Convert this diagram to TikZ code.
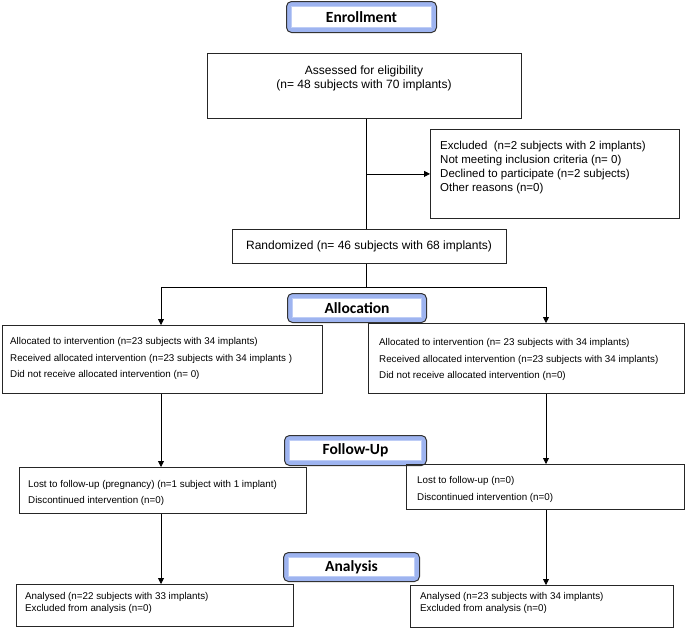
\documentclass[tikz,border=0pt]{standalone}
\usepackage{fontspec}
\setmainfont{Liberation Sans}
\newfontfamily\hfont{Carlito}
\usetikzlibrary{arrows.meta}
\definecolor{hblue}{RGB}{158,180,240}
\definecolor{hline}{RGB}{190,205,246}
\newcommand\mybox[5]{\node[box, minimum width=#4pt, minimum height=#5pt] (#1) at (#2,#3) {};}
\begin{document}
\begin{tikzpicture}[x=1pt,y=-1pt,
  box/.style={draw=black!85, line width=0.8pt, inner sep=0pt, anchor=north west},
  hdr/.style={anchor=north west, draw=black!80, line width=1pt, rounded corners=5pt, fill=hblue, inner sep=0pt,
    font=\hfont\bfseries\fontsize{15.5}{18}\selectfont,
    path picture={\draw[sharp corners, fill=white, draw=hline, line width=0.5pt]
      ([shift={(5pt,-5pt)}]path picture bounding box.north west) rectangle
      ([shift={(-5pt,5pt)}]path picture bounding box.south east);}},
  txtL/.style={font=\fontsize{12}{13.5}\selectfont, align=center, inner sep=0pt},
  txtE/.style={font=\fontsize{11.5}{13.7}\selectfont, align=left, inner sep=0pt, anchor=west},
  txtS/.style={font=\fontsize{9.8}{16.5}\selectfont, align=left, inner sep=0pt, anchor=west},
  txtT/.style={font=\fontsize{9.8}{12}\selectfont, align=left, inner sep=0pt, anchor=west},
  arr/.style={line width=0.8pt, -{Triangle[length=6pt,width=6pt]}},
  ln/.style={line width=0.8pt}]
\useasboundingbox (0,0) rectangle (685,630);

% headers
\node[hdr, minimum width=150pt, minimum height=31pt] (henr) at (286,1) {Enrollment};
\node[hdr, minimum width=139pt, minimum height=29pt] (hall) at (287,293) {Allocation};
\node[hdr, minimum width=142pt, minimum height=30pt] (hfu) at (284,435) {Follow-Up};
\node[hdr, minimum width=136pt, minimum height=29pt] (han) at (283,552) {Analysis};

% boxes
\mybox{ass}{207}{53}{314}{65}
\mybox{exc}{430}{129}{249}{89}
\mybox{rnd}{232}{229}{274}{34}
\mybox{la}{2}{325}{320}{68}
\mybox{ra}{368}{323}{316}{70}
\mybox{lf}{19}{467}{287}{46}
\mybox{rf}{406}{464}{278}{45}
\mybox{lan}{16}{584}{277}{42}
\mybox{ran}{410}{585}{263}{42}

% texts
\node[txtL] (tass) at (364,78.5) {Assessed for eligibility\\(n= 48 subjects with 70 implants)};
\node[txtE] (texc) at (440,167.5) {Excluded\ \ (n=2 subjects with 2 implants)\\Not meeting inclusion criteria (n= 0)\\Declined to participate (n=2 subjects)\\Other reasons (n=0)};
\node[txtL] (trnd) at (369,246) {Randomized (n= 46 subjects with 68 implants)};
\node[txtS] (tla) at (10,358.5) {Allocated to intervention (n=23 subjects with 34 implants)\\Received allocated intervention (n=23 subjects with 34 implants )\\Did not receive allocated intervention (n= 0)};
\node[txtS] (tra) at (379,359.5) {Allocated to intervention (n= 23 subjects with 34 implants)\\Received allocated intervention (n=23 subjects with 34 implants)\\Did not receive allocated intervention (n=0)};
\node[txtS] (tlf) at (28,493) {Lost to follow-up (pregnancy) (n=1 subject with 1 implant)\\Discontinued intervention (n=0)};
\node[txtS] (trf) at (417,489.5) {Lost to follow-up (n=0)\\Discontinued intervention (n=0)};
\node[txtT] (tlan) at (25,603) {Analysed (n=22 subjects with 33 implants)\\Excluded from analysis (n=0)};
\node[txtT] (tran) at (420,603) {Analysed (n=23 subjects with 34 implants)\\Excluded from analysis (n=0)};

% connectors
\coordinate (mx) at (366,287);
\coordinate (lx) at (161,287);
\coordinate (rx) at (546,287);
\draw[ln] (ass.south -| mx) -- (rnd.north -| mx);
\coordinate (br) at (exc.west -| mx);
\draw[arr] (br) -- (exc.west);
\draw[ln] (rnd.south -| mx) -- (mx);
\draw[ln] (lx) -- (rx);
\draw[arr] (lx) -- (la.north -| lx);
\draw[arr] (rx) -- (ra.north -| rx);
\draw[arr] (la.south -| lx) -- (lf.north -| lx);
\draw[arr] (ra.south -| rx) -- (rf.north -| rx);
\draw[arr] (lf.south -| lx) -- (lan.north -| lx);
\draw[arr] (rf.south -| rx) -- (ran.north -| rx);
\end{tikzpicture}
\end{document}
